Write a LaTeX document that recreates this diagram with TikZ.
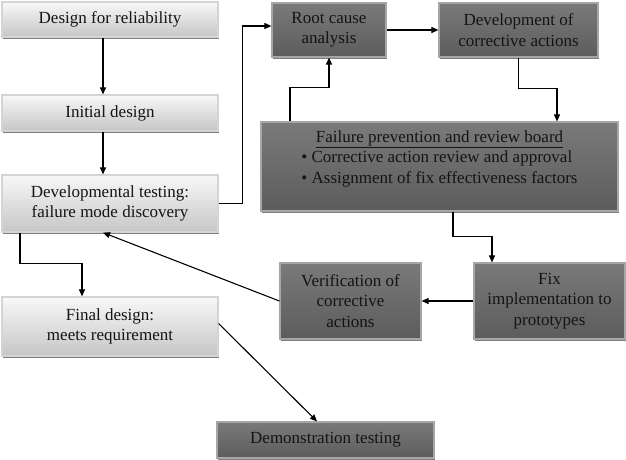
\documentclass[tikz,border=0pt]{standalone}
\usepackage{fontspec}
\setmainfont{Liberation Serif}
\usetikzlibrary{arrows.meta,shadows}
\definecolor{ink}{HTML}{141414}
\definecolor{lighttop}{HTML}{F8F8F8}
\definecolor{lightbot}{HTML}{C6C6C6}
\definecolor{lightrim}{HTML}{D4D4D4}
\definecolor{darktop}{HTML}{7A7A7A}
\definecolor{darkbot}{HTML}{5C5C5C}
\definecolor{darkrim}{HTML}{A6A6A6}
\definecolor{shade}{HTML}{7E7E7E}

\begin{document}
\begin{tikzpicture}[
    x=1pt, y=-1pt,
    >={Triangle[length=7pt,width=6pt]},
    font=\fontsize{17}{20.5}\selectfont,
    every node/.style={text=ink, align=center, inner sep=0pt},
    box/.style={rectangle, line width=1.2pt,
                drop shadow={shadow xshift=1.2pt, shadow yshift=-1.8pt,
                             fill=shade, opacity=1}},
    lightbox/.style={box, draw=lightrim, top color=lighttop, bottom color=lightbot},
    darkbox/.style={box, draw=darkrim, top color=darktop, bottom color=darkbot},
    link/.style={->, line width=1.1pt, black},
  ]
\useasboundingbox (0,0) rectangle (626,460);

% reliability growth path (left column)
\node[lightbox, minimum width=216pt, minimum height=35pt] (design) at (110,19.5)
  {Design for reliability};
\node[lightbox, minimum width=216pt, minimum height=36pt] (initial) at (110,113)
  {Initial design};
\node[lightbox, minimum width=216pt, minimum height=57pt] (devtest) at (110,203.5)
  {Developmental testing:\\failure mode discovery};
\node[lightbox, minimum width=216pt, minimum height=59pt] (final) at (110,326.5)
  {Final design:\\meets requirement};

% corrective action loop
\node[darkbox, minimum width=114pt, minimum height=54pt] (root) at (329,30)
  {Root cause\\analysis};
\node[darkbox, minimum width=159pt, minimum height=54pt] (devca) at (518.5,30)
  {Development of\\corrective actions};
\node[darkbox, minimum width=357pt, minimum height=89pt] (fprb) at (439.5,166.5)
  {\begin{tabular}{@{}l@{}}
   \multicolumn{1}{c}{\underline{Failure prevention and review board}}\\
   \textbullet\ Corrective action review and approval\\
   \textbullet\ Assignment of fix effectiveness factors\\[16pt]
   \end{tabular}};
\node[darkbox, minimum width=151pt, minimum height=76pt] (fix) at (549.5,301)
  {Fix\\implementation to\\prototypes};
\node[darkbox, minimum width=141pt, minimum height=76pt] (verif) at (350.5,301)
  {Verification of\\corrective\\actions};
\node[darkbox, minimum width=217pt, minimum height=36pt] (demo) at (325.5,440)
  {Demonstration testing};

% connectors
\draw[link] ([xshift=-7pt]design.south) -- ([xshift=-7pt]initial.north);
\draw[link] ([xshift=-7pt]initial.south) -- ([xshift=-7pt]devtest.north);
\draw[link] (devtest.east) -- ++(24,0) |- ([yshift=4pt]root.west);
\draw[link] (root.east) -- (devca.west);
\draw[link] (devca.south) -- ++(0,31) -| ([xshift=117.5pt]fprb.north);
\draw[link] ([xshift=-149.5pt]fprb.north) -- ++(0,-34) -| (root.south);
\draw[link] ([xshift=13.5pt]fprb.south) -- ++(0,25) -| ([xshift=-57.5pt]fix.north);
\draw[link] (fix.west) -- (verif.east);
\draw[link] (verif.west) -- ([xshift=-7pt]devtest.south);
\draw[link] ([xshift=-90pt]devtest.south) -- ++(0,31) -| ([xshift=-28pt]final.north);
\draw[link] ([yshift=3pt]final.east) -- ([xshift=-8.5pt]demo.north);

\end{tikzpicture}
\end{document}
